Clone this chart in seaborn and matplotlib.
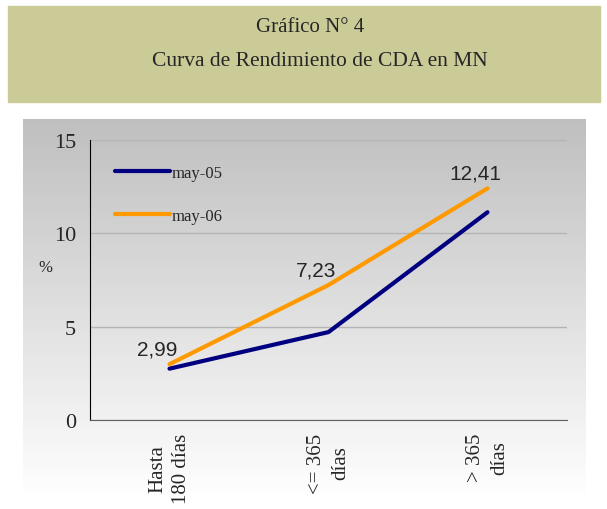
import numpy as np
import pandas as pd
import seaborn as sns
import matplotlib.pyplot as plt
from matplotlib.patches import Rectangle

categorias = ["Hasta\n180 días", "<= 365\ndías", "> 365\ndías"]
may_05 = [2.75, 4.71, 11.13]
may_06 = [2.99, 7.23, 12.41]
etiquetas_06 = ["2,99", "7,23", "12,41"]
series = ["may-05", "may-06"]
colores = {"may-05": "#000080", "may-06": "#FF9900"}

sns.set_style("white")
plt.rcParams["font.family"] = ["Liberation Serif", "DejaVu Serif"]

pos = np.arange(len(categorias)) + 0.5
df = pd.DataFrame({
    "pos": np.concatenate([pos, pos]),
    "valor": may_05 + may_06,
    "serie": [series[0]] * 3 + [series[1]] * 3,
})

fig = plt.figure(figsize=(6.07, 5.10), dpi=100)
W, H = 607, 510

# banner
fig.patches.append(Rectangle((8 / W, 1 - 103 / H), 592 / W, 96 / H,
                             transform=fig.transFigure, color="#CBCB98", zorder=0))
fig.text(310 / W, 1 - 27 / H, "Gráfico N° 4", ha="center", va="center", fontsize=15)
fig.text(320 / W, 1 - 62 / H, "Curva de Rendimiento de CDA en MN", ha="center",
         va="center", fontsize=15.5)

# fondo con degradado
bg = fig.add_axes([23 / W, 1 - 500 / H, (586 - 23) / W, (500 - 120) / H], zorder=-1)
grad = np.linspace(0.75, 1.0, 256).reshape(-1, 1)
bg.imshow(np.dstack([grad, grad, grad]), aspect="auto", extent=[0, 1, 0, 1])
bg.set_axis_off()

ax = fig.add_axes([90 / W, 1 - 421 / H, 477 / W, 280 / H])
ax.patch.set_alpha(0)
sns.lineplot(data=df, x="pos", y="valor", hue="serie", palette=colores,
             linewidth=3, ax=ax)

for x, v, t in zip(pos, may_06, etiquetas_06):
    ax.annotate(t, (x, v), xytext=(-9, 4), textcoords="offset points",
                ha="center", va="bottom", fontsize=15, family="Liberation Sans")

ax.set_xlim(0, 3)
ax.set_ylim(0, 15)
ax.set_yticks([0, 5, 10, 15])
ax.yaxis.grid(True, color="#B4B4B4", linewidth=1)
ax.set_xticks([0, 1, 2, 3])
ax.set_xticklabels([])
ax.set_xticks(pos, minor=True)
ax.set_xticklabels(categorias, minor=True, rotation=90, fontsize=15,
                   multialignment="center", linespacing=1.35)
ax.tick_params(axis="x", which="minor", length=0, pad=9)
ax.tick_params(axis="x", which="major", direction="out", length=6, color="black")
ax.tick_params(axis="y", direction="out", length=6, color="black", labelsize=16, pad=4)
ax.set_xlabel("")
ax.set_ylabel("")
ax.text(-0.094, 0.546, "%", transform=ax.transAxes, ha="center", va="center", fontsize=12)

for s in ["top", "right"]:
    ax.spines[s].set_visible(False)
ax.spines["left"].set_color("black")
ax.spines["bottom"].set_color("#606060")

h, l = ax.get_legend_handles_labels()
ax.legend(h, l, loc="upper left", bbox_to_anchor=(0.02, 0.965), frameon=False,
          fontsize=12, handlelength=3.3, handletextpad=0.1, labelspacing=1.65)

fig.savefig("out.png", dpi=100)
